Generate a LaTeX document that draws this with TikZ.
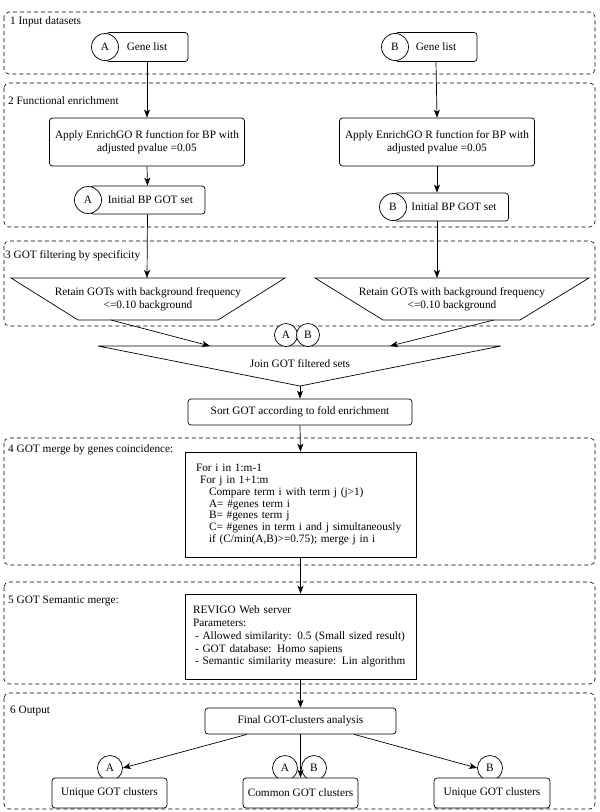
\documentclass[tikz,border=0pt]{standalone}
\usepackage{fontspec}
\setmainfont{Liberation Serif}
\usetikzlibrary{arrows.meta}
\begin{document}
\begin{tikzpicture}[x=1pt,y=-1pt,
  every node/.style={font=\fontsize{11.3}{12.5}\selectfont},
  frame/.style={draw, dashed, dash pattern=on 4pt off 3pt, rounded corners=5pt, line width=0.6pt},
  rbox/.style={draw, rounded corners=3pt, fill=white, align=center, inner sep=0pt, line width=0.7pt},
  sbox/.style={draw, fill=white, inner sep=0pt, line width=0.7pt},
  circ/.style={draw, circle, fill=white, inner sep=0pt, line width=0.7pt},
  lbl/.style={anchor=west, inner sep=0pt},
  arr/.style={-{Stealth[length=8pt,width=6pt,inset=2pt]}, line width=0.7pt},
  ln/.style={line width=0.7pt}]
\useasboundingbox (0,0) rectangle (600,812);
% frames
\draw[frame] (4,12) rectangle (595,74);
\draw[frame] (4,83) rectangle (595,227);
\draw[frame] (4,241) rectangle (595,326);
\draw[frame] (4,438) rectangle (595,565);
\draw[frame] (4,582) rectangle (595,684);
\draw[frame] (4,693) rectangle (595,809);
\node[lbl] (l1) at (10,22) {1 Input datasets};
\node[lbl] (l2) at (8,101) {2 Functional enrichment};
\node[lbl] (l3) at (5,256) {3 GOT filtering by specificity};
\node[lbl] (l4) at (8,450) {4 GOT merge by genes coincidence:};
\node[lbl] (l5) at (8,601) {5 GOT Semantic merge:};
\node[lbl] (l6) at (10,711) {6 Output};
% gene lists
\node[rbox, minimum width=82pt, minimum height=29pt] (gA) at (147,47) {Gene list};
\node[circ, minimum size=27pt] (cgA) at (105,47) {A};
\node[rbox, minimum width=82pt, minimum height=29pt] (gB) at (436,47) {Gene list};
\node[circ, minimum size=27pt] (cgB) at (395,47) {B};
% enrichment
\node[rbox, minimum width=195pt, minimum height=48pt] (eA) at (147,142) {Apply EnrichGO R function for BP with\\adjusted pvalue =0.05};
\node[rbox, minimum width=195pt, minimum height=48pt] (eB) at (437,142) {Apply EnrichGO R function for BP with\\adjusted pvalue =0.05};
\node[rbox, minimum width=115pt, minimum height=28pt] (iA) at (147.5,200) {\hspace*{6pt}Initial BP GOT set};
\node[circ, minimum size=27pt] (ciA) at (88,200) {A};
\node[rbox, minimum width=115pt, minimum height=28pt] (iB) at (451,207) {\hspace*{6pt}Initial BP GOT set};
\node[circ, minimum size=27pt] (ciB) at (393,207) {B};
% trapezoids
\draw[ln] (11,278) -- (285,278) -- (218,320) -- (78,320) -- cycle;
\draw[ln] (315,278) -- (589,278) -- (520,320) -- (383,320) -- cycle;
\node[align=center, inner sep=0pt] (tA) at (148,299) {Retain GOTs with background frequency\\<=0.10 background};
\node[align=center, inner sep=0pt] (tB) at (452,299) {Retain GOTs with background frequency\\<=0.10 background};
\coordinate (tAtop) at (147,278);
\coordinate (tBtop) at (437,278);
\coordinate (tAbot) at (111,320);
\coordinate (tBbot) at (494,320);
% join triangle
\draw[ln] (98,346) -- (501,346) -- (300,386) -- cycle;
\coordinate (jL) at (210,346);
\coordinate (jR) at (390,346);
\coordinate (jApex) at (300,386);
\node[circ, minimum size=23pt] (jcA) at (286,335) {A};
\node[circ, minimum size=23pt] (jcB) at (308,335) {B};
\node[inner sep=0pt] (jt) at (300,364) {Join GOT filtered sets};
% sort
\node[rbox, minimum width=224pt, minimum height=26pt] (sort) at (300,412) {Sort GOT according to fold enrichment};
% code box
\node[sbox, minimum width=231pt, minimum height=105pt, text width=209pt, inner xsep=11pt, align=left,
  font=\fontsize{11.3}{11.9}\selectfont] (code) at (300.5,504.5) {For i in 1:m-1\\
\hspace*{4pt}For j in 1+1:m\\
\hspace*{13pt}Compare term i with term j (j>1)\\
\hspace*{13pt}A= \#genes term i\\
\hspace*{13pt}B= \#genes term j\\
\hspace*{13pt}C= \#genes in term i and j simultaneously\\
\hspace*{13pt}if (C/min(A,B)>=0.75); merge j in i};
% revigo
\node[sbox, minimum width=231pt, minimum height=85pt, text width=215pt, inner xsep=8pt, align=left,
  font=\fontsize{11.3}{12.8}\selectfont] (rev) at (300.5,636.5) {REVIGO Web server\\
Parameters:\\
\hspace*{2pt}- Allowed similarity: 0.5 (Small sized result)\\
\hspace*{2pt}- GOT database: Homo sapiens\\
\hspace*{2pt}- Semantic similarity measure: Lin algorithm};
% output
\node[rbox, minimum width=191pt, minimum height=26pt] (fin) at (300.5,721) {Final GOT-clusters analysis};
\node[circ, minimum size=25pt] (ocA) at (110,768) {A};
\node[circ, minimum size=25pt] (ocAB1) at (285,768) {A};
\node[circ, minimum size=25pt] (ocAB2) at (314,768) {B};
\node[circ, minimum size=25pt] (ocB) at (490,768) {B};
\node[rbox, minimum width=115pt, minimum height=30pt] (uA) at (109.5,793) {Unique GOT clusters};
\node[rbox, minimum width=115pt, minimum height=30pt] (com) at (300.5,793) {Common GOT clusters};
\node[rbox, minimum width=116pt, minimum height=30pt] (uB) at (492,793) {Unique GOT clusters};
% connectors
\draw[arr] (gA.south) -- (eA.north);
\draw[arr] (gB.south) -- (eB.north);
\draw[arr] (eA.south) -- (iA.north);
\draw[arr] (eB.south) -- (iB.north -| eB.south);
\draw[arr] (iA.south) -- (tAtop);
\draw[arr] (iB.south -| tBtop) -- (tBtop);
\draw[arr] (tAbot) -- (jL);
\draw[arr] (tBbot) -- (jR);
\draw[arr] (jApex) -- (sort.north);
\draw[arr] (sort.south) -- (code.north);
\draw[arr] (code.south) -- (rev.north);
\draw[arr] (rev.south) -- (fin.north);
\draw[arr] (fin.south -| 247,0) -- (ocA.east);
\draw[arr] (fin.south) -- (com.north);
\draw[arr] (fin.south -| 354,0) -- (ocB.west);
\end{tikzpicture}
\end{document}
